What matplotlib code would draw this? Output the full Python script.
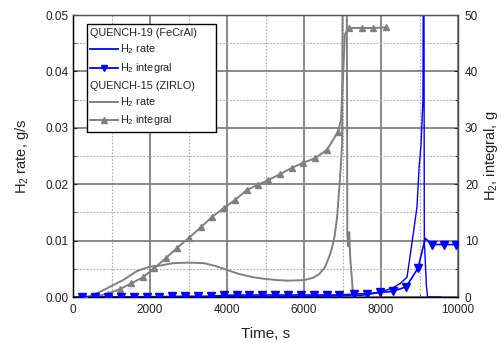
import matplotlib
matplotlib.use("Agg")
import matplotlib.pyplot as plt
from matplotlib.lines import Line2D
from matplotlib.patches import Rectangle
from matplotlib.ticker import MultipleLocator, FormatStrFormatter

plt.rcParams['font.family'] = ['Liberation Sans', 'DejaVu Sans']
plt.rcParams['mathtext.fontset'] = 'custom'
plt.rcParams['mathtext.rm'] = 'Liberation Sans'
plt.rcParams['mathtext.it'] = 'Liberation Sans:italic'

# ---- data ----
# QUENCH-15 (ZIRLO) hydrogen rate, g/s
zr_rate_t = [360, 700, 960, 1300, 1660, 2000, 2200, 2600, 3000, 3400, 3700, 4000, 4300,
             4680, 5000, 5300, 5600, 6000, 6234, 6400, 6545, 6675, 6727, 6800, 6857,
             6935, 6990, 7005, 7110, 7125, 7150, 7175, 7200, 7235, 7265, 7290, 7400]
zr_rate = [0.0, 0.0009, 0.0018, 0.0030, 0.0046, 0.0054, 0.0055, 0.0060, 0.0061, 0.0060,
           0.0055, 0.0048, 0.0041, 0.0035, 0.0032, 0.0030, 0.0029, 0.0030, 0.0034, 0.0041,
           0.0053, 0.0075, 0.0087, 0.0110, 0.0140, 0.0210, 0.0270, 0.0600, 0.0600, 0.0110,
           0.0090, 0.0115, 0.0070, 0.0040, 0.0012, 0.0, 0.0]

# QUENCH-15 (ZIRLO) hydrogen integral, g
zr_int_t = [310, 600, 909, 1221, 1506, 1818, 2104, 2416, 2701, 3013, 3325, 3610, 3922,
            4208, 4519, 4805, 5065, 5377, 5688, 5974, 6286, 6597, 6883, 6960, 7020, 7060,
            7110, 7169, 7506, 7792, 8130]
zr_int = [0.0, 0.1, 0.6, 1.4, 2.4, 3.5, 5.1, 6.9, 8.7, 10.5, 12.4, 14.2, 15.8, 17.2,
          19.0, 19.9, 20.7, 21.8, 22.9, 23.8, 24.6, 26.1, 29.3, 31.4, 40.0, 46.5, 47.2,
          47.7, 47.7, 47.7, 47.8]
zr_int_markers = [0, 2, 3, 4, 5, 6, 7, 8, 9, 10, 11, 12, 13, 14, 15, 16, 17, 18, 19, 20,
                  21, 22, 27, 28, 29, 30]

# QUENCH-19 (FeCrAl) hydrogen rate, g/s
fc_rate_t = [0, 1000, 2000, 3000, 4000, 5000, 6000, 7000, 7500, 7800, 8000, 8300, 8500,
             8675, 8750, 8840, 8935, 8990, 9040, 9090, 9100, 9115, 9125, 9180, 9210, 9550]
fc_rate = [0.0, 0.0, 0.0, 0.0001, 0.0001, 0.0001, 0.0001, 0.0002, 0.0003, 0.0006, 0.0009,
           0.0016, 0.0024, 0.0035, 0.0070, 0.0113, 0.0160, 0.0230, 0.0270, 0.0350, 0.0600,
           0.0600, 0.0100, 0.0020, 0.0, 0.0]

# QUENCH-19 (FeCrAl) hydrogen integral, g
fc_int_t = [240, 574, 908, 1242, 1576, 1910, 2244, 2578, 2912, 3246, 3580, 3914, 4248,
            4582, 4916, 5250, 5584, 5918, 6252, 6586, 6920, 7300, 7640, 7970, 8310, 8650,
            8960, 9150, 9320, 9640, 9950]
fc_int = [0.0, 0.0, 0.0, 0.0, 0.0, 0.05, 0.05, 0.1, 0.1, 0.1, 0.1, 0.3, 0.35, 0.35, 0.35,
          0.35, 0.35, 0.35, 0.35, 0.35, 0.35, 0.5, 0.6, 0.8, 1.0, 1.8, 5.1, 10.4, 9.3,
          9.3, 9.3]
fc_int_markers = [i for i in range(len(fc_int_t)) if i != 27]

# ---- figure ----
W, H = 501, 343
fig = plt.figure(figsize=(W / 100, H / 100), dpi=100)
L, R, T, B = 73, 458, 15, 297
ax = fig.add_axes([L / W, 1 - B / H, (R - L) / W, (B - T) / H])
ax2 = ax.twinx()

GRAY = '#808080'
BLUE = '#0000ff'
TXT = '#222222'

ax.set_xlim(0, 10000)
ax.set_ylim(0, 0.05)
ax2.set_ylim(0, 50)

ax.xaxis.set_major_locator(MultipleLocator(2000))
ax.xaxis.set_minor_locator(MultipleLocator(1000))
ax.yaxis.set_major_locator(MultipleLocator(0.01))
ax.yaxis.set_minor_locator(MultipleLocator(0.005))
ax.yaxis.set_major_formatter(FormatStrFormatter('%.2f'))
ax2.yaxis.set_major_locator(MultipleLocator(10))
ax2.yaxis.set_minor_locator(MultipleLocator(5))

ax.grid(which='major', color=GRAY, lw=1.3, ls='-')
ax.grid(which='minor', color='#a8a8a8', lw=0.8, ls=(0, (1.5, 1.5)))
ax.set_axisbelow(True)

for a in (ax, ax2):
    a.tick_params(which='both', direction='in', labelsize=8.5, labelcolor=TXT,
                  color='#222222')
    a.tick_params(which='major', length=3, width=0.8)
    a.tick_params(which='minor', length=2, width=0.6)
ax.tick_params(axis='x', pad=5)
ax2.tick_params(axis='y', pad=5)
for s in ('left', 'bottom'):
    ax.spines[s].set_color('black')
    ax.spines[s].set_linewidth(1.0)
for s in ('top', 'right'):
    ax2.spines[s].set_color('#555555')
    ax2.spines[s].set_linewidth(1.0)
ax2.spines['left'].set_color('black')
ax2.spines['bottom'].set_color('black')

ax.set_xlabel('Time, s', fontsize=11, color=TXT, labelpad=8)
ax.set_ylabel('H$_2$ rate, g/s', fontsize=10.5, color=TXT, labelpad=10)
ax2.set_ylabel('H$_2$, integral, g', fontsize=10.5, color=TXT, labelpad=3)

# series
ax.plot(zr_rate_t, zr_rate, color=GRAY, lw=1.4, zorder=3)
ax2.plot(zr_int_t, zr_int, color=GRAY, lw=1.4, marker='^', markersize=5,
         markevery=zr_int_markers, zorder=3)
ax.plot(fc_rate_t, fc_rate, color=BLUE, lw=1.0, zorder=4)
ax2.plot(fc_int_t, fc_int, color=BLUE, lw=1.2, marker='v', markersize=5.5,
         markevery=fc_int_markers, zorder=4)

# ---- legend drawn in axes coordinates ----
def p2a(px, py):
    return ((px - L) / (R - L), (B - py) / (B - T))

x0, y0 = p2a(87, 132)
x1, y1 = p2a(216, 24)
ax2.add_patch(Rectangle((x0, y0), x1 - x0, y1 - y0, transform=ax2.transAxes,
                        facecolor='white', edgecolor='black', lw=1.0, zorder=10,
                        clip_on=False))
rows = [33, 49, 68, 86, 102, 120]
entries = [
    ('header', 'QUENCH-19 (FeCrAl)', None, None),
    ('line', 'H$_2$ rate', BLUE, None),
    ('line', 'H$_2$ integral', BLUE, 'v'),
    ('header', 'QUENCH-15 (ZIRLO)', None, None),
    ('line', 'H$_2$ rate', GRAY, None),
    ('line', 'H$_2$ integral', GRAY, '^'),
]
for py, (kind, label, col, mk) in zip(rows, entries):
    if kind == 'header':
        tx, ty = p2a(90, py)
        ax2.text(tx, ty, label, transform=ax2.transAxes, fontsize=7.8, color=TXT,
                 va='center', ha='left', zorder=11)
    else:
        ax_, ay_ = p2a(90, py)
        bx_, _ = p2a(118, py)
        mx_, _ = p2a(104, py)
        ax2.add_line(Line2D([ax_, bx_], [ay_, ay_], transform=ax2.transAxes, color=col,
                            lw=1.3 if col == BLUE else 1.4, zorder=11, clip_on=False))
        if mk:
            ax2.add_line(Line2D([mx_], [ay_], transform=ax2.transAxes, color=col,
                                marker=mk, markersize=5, lw=0, zorder=12, clip_on=False))
        tx, ty = p2a(120, py)
        ax2.text(tx, ty, label, transform=ax2.transAxes, fontsize=7.8, color=TXT,
                 va='center', ha='left', zorder=11)

fig.savefig('out.png', dpi=100)
